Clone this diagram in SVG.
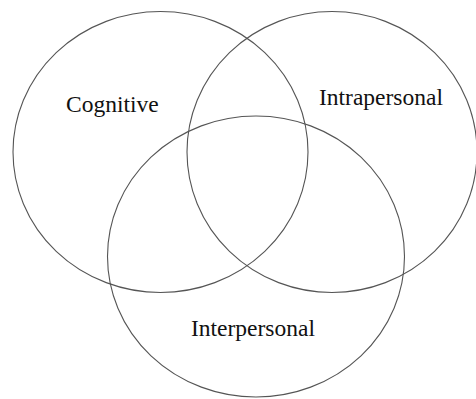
<svg xmlns="http://www.w3.org/2000/svg" width="476" height="399" viewBox="0 0 476 399">
<style>
.c{fill:none;stroke:#555;stroke-width:1.1}
.t{font-family:"Liberation Serif","Times New Roman",serif;font-size:23.5px;fill:#111}
</style>
<rect width="476" height="399" fill="#fff"/>
<g id="cognitive"><ellipse class="c" cx="160.5" cy="152" rx="147.5" ry="140.5"/><text class="t" x="66" y="112">Cognitive</text></g>
<g id="intrapersonal"><ellipse class="c" cx="332" cy="152" rx="145" ry="140.5"/><text class="t" x="319" y="105">Intrapersonal</text></g>
<g id="interpersonal"><ellipse class="c" cx="256" cy="256.5" rx="148.5" ry="140.5"/><text class="t" x="191" y="336">Interpersonal</text></g>
<g id="connectors"/>
</svg>
